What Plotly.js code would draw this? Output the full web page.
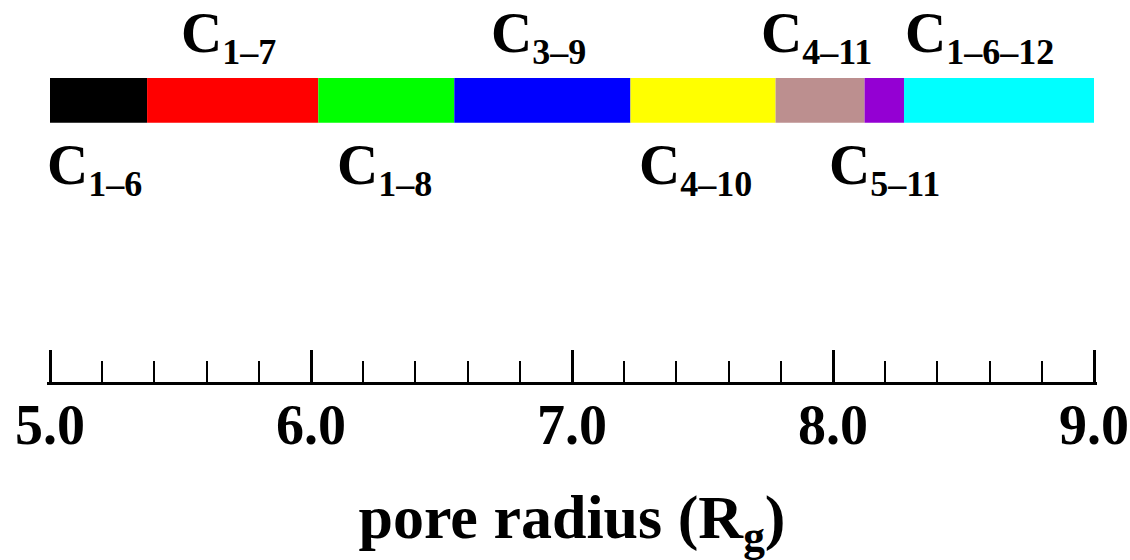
<!DOCTYPE html>
<html>
<head>
<meta charset="utf-8">
<script src="https://cdn.plot.ly/plotly-3.0.1.min.js"></script>
<style>html,body{margin:0;padding:0;background:#fff;}#chart{width:1130px;height:560px;}</style>
</head>
<body>
<div id="chart"></div>
<script>
// Data
var segmentStarts = [5.0, 5.372, 6.028, 6.549, 7.224, 7.780, 8.121, 8.272];
var segmentEnds   = [5.372, 6.028, 6.549, 7.224, 7.780, 8.121, 8.272, 9.0];
var segmentNames  = ["1–6", "1–7", "1–8", "3–9", "4–10", "4–11", "5–11", "1–6–12"];
var labelSide = ["below", "above", "below", "above", "below", "above", "below", "above"];
var segmentColors = ["#000000", "#ff0000", "#00ff00", "#0000ff", "#ffff00", "#bc8f8f", "#9400d3", "#00ffff"];
var tickValues = [5.0, 6.0, 7.0, 8.0, 9.0];
var tickLabels = ["5.0", "6.0", "7.0", "8.0", "9.0"];
var labelXShift = [-4, -4, -2, -4, -8, -4, 0, -20];

var widths = segmentStarts.map(function(s, i){ return segmentEnds[i] - s; });

var trace = {
  type: 'bar',
  orientation: 'h',
  base: segmentStarts,
  x: widths,
  y: segmentStarts.map(function(){ return 0; }),
  width: 1,
  marker: {color: segmentColors, line: {width: 0}},
  hoverinfo: 'skip',
  showlegend: false
};

var fontFam = '"Liberation Serif", "Times New Roman", Times, serif';

var annotations = segmentNames.map(function(n, i){
  var above = labelSide[i] === 'above';
  return {
    x: (segmentStarts[i] + segmentEnds[i]) / 2,
    y: above ? 0.5 : -0.5,
    xref: 'x', yref: 'y',
    xanchor: 'center',
    yanchor: above ? 'bottom' : 'top',
    xshift: labelXShift[i],
    yshift: above ? 4 : -8,
    text: 'C<sub><span style="font-size:36px">' + n + '</span></sub>',
    showarrow: false,
    font: {family: fontFam, size: 57, color: '#000', weight: 'bold'}
  };
});

// 3 px of padding on each side so the end ticks at 5.0 and 9.0 are drawn
var pad = 3 / 261;

var layout = {
  width: 1130, height: 560,
  margin: {l: 47, r: 33, t: 0, b: 178, pad: 0},
  paper_bgcolor: '#fff', plot_bgcolor: '#fff',
  barmode: 'overlay',
  xaxis: {
    range: [5 - pad, 9 + pad],
    tickvals: tickValues,
    ticktext: tickLabels,
    ticks: 'inside',
    ticklen: 32,
    tickwidth: 3,
    tickcolor: '#000',
    minor: {dtick: 0.2, ticks: 'inside', ticklen: 21, tickwidth: 2, tickcolor: '#000', showgrid: false},
    showline: true, linewidth: 3, linecolor: '#000',
    showgrid: false, zeroline: false,
    ticklabelstandoff: -8,
    tickfont: {family: fontFam, size: 56, color: '#000', weight: 'bold'},
    title: {text: 'pore radius (R<sub>g</sub>)', standoff: 64,
            font: {family: fontFam, size: 62, color: '#000', weight: 'bold'}},
    fixedrange: true
  },
  yaxis: {
    range: [-6.30, 2.246],
    visible: false,
    showgrid: false, zeroline: false,
    fixedrange: true
  },
  annotations: annotations
};

Plotly.newPlot('chart', [trace], layout, {staticPlot: true, displayModeBar: false});
</script>
</body>
</html>
